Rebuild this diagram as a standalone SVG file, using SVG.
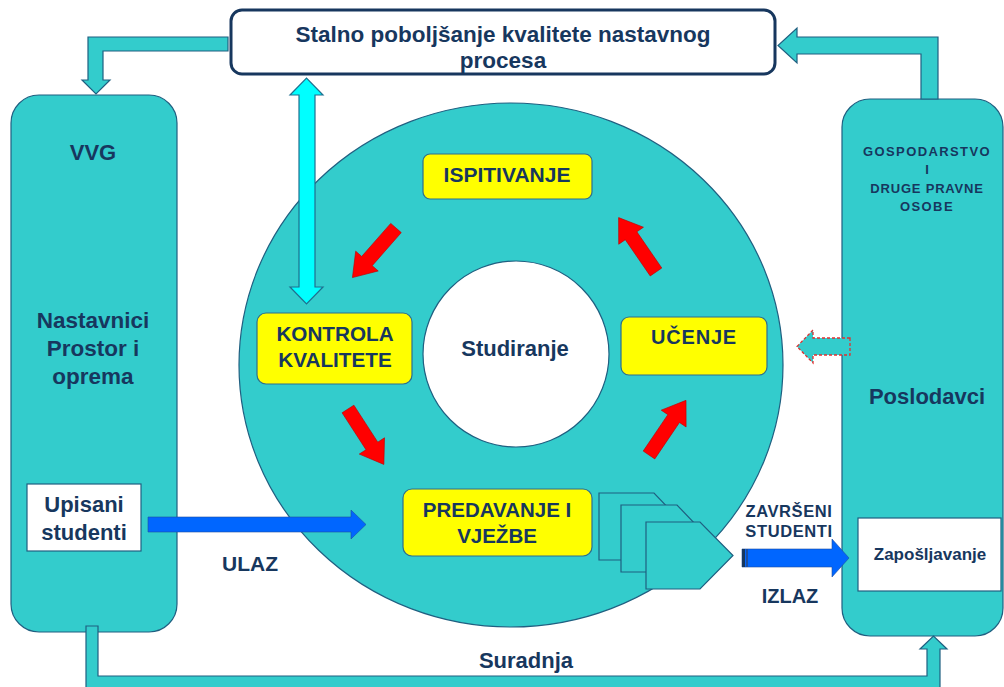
<svg xmlns="http://www.w3.org/2000/svg" width="1004" height="687" viewBox="0 0 1004 687">
<defs>
<style>
.t{font-family:"Liberation Sans",Arial,sans-serif;font-weight:bold;fill:#17375E;text-anchor:middle}
.teal{fill:#33CCCC;stroke:#1F5F80;stroke-width:1.2}
.yel{fill:#FFFF00;stroke:#2E6E8E;stroke-width:1.2}
.red{fill:#FF0000;stroke:#C00000;stroke-width:0.6}
.blue{fill:#0066FF;stroke:#1F4E9E;stroke-width:0.6}
</style>
<path id="redArrow" d="M0,-7 L44,-7 L44,-15 L66,0 L44,15 L44,7 L0,7 Z"/>
</defs>
<rect width="1004" height="687" fill="#FFFFFF"/>

<g id="vvg">
<rect class="teal" x="11" y="95" width="166" height="537" rx="28"/>
<text class="t" x="93" y="160" font-size="22">VVG</text>
<text class="t" x="93" y="328" font-size="22.5">Nastavnici</text>
<text class="t" x="93" y="356" font-size="22.5">Prostor i</text>
<text class="t" x="93" y="384" font-size="22.5">oprema</text>
</g>

<g id="poslodavci">
<rect class="teal" x="842" y="99" width="161" height="537" rx="28"/>
<text class="t" x="927" y="156" font-size="13" letter-spacing="1.4">GOSPODARSTVO</text>
<text class="t" x="927" y="174" font-size="13">I</text>
<text class="t" x="927" y="193" font-size="13" letter-spacing="0.8">DRUGE PRAVNE</text>
<text class="t" x="927" y="211" font-size="13" letter-spacing="1.4">OSOBE</text>
<text class="t" x="927" y="404" font-size="22">Poslodavci</text>
</g>

<g id="ring">
<ellipse class="teal" cx="511" cy="365" rx="272" ry="262"/>
</g>

<g id="studiranje">
<circle cx="516" cy="354" r="93" fill="#FFFFFF" stroke="#1F5F80" stroke-width="1.2"/>
<text class="t" x="515" y="356" font-size="22">Studiranje</text>
</g>

<g id="ispitivanje">
<rect class="yel" x="423" y="154" width="169" height="45" rx="7"/>
<text class="t" x="507" y="182" font-size="21">ISPITIVANJE</text>
</g>

<g id="kontrola">
<rect class="yel" x="257" y="313" width="155" height="71" rx="9"/>
<text class="t" x="335" y="341" font-size="20.7">KONTROLA</text>
<text class="t" x="335" y="367" font-size="20.7">KVALITETE</text>
</g>

<g id="ucenje">
<rect class="yel" x="621" y="317" width="146" height="58" rx="8"/>
<text class="t" x="694" y="344" font-size="20" letter-spacing="0.8">UČENJE</text>
</g>

<g id="predavanje">
<rect class="yel" x="403" y="489" width="189" height="67" rx="9"/>
<text class="t" x="497" y="517" font-size="20.5">PREDAVANJE I</text>
<text class="t" x="497" y="543" font-size="20.5">VJEŽBE</text>
</g>

<g id="documents">
<path class="teal" d="M599,493 L654,493 L686,526.5 L654,560 L599,560 Z"/>
<path class="teal" d="M621,505 L677,505 L709,538.5 L677,572 L621,572 Z"/>
<path class="teal" d="M646,522 L700,522 L733,555.5 L700,589 L646,589 Z"/>
</g>

<g id="top-box">
<rect x="231" y="10" width="544" height="64" rx="11" fill="#FFFFFF" stroke="#17375E" stroke-width="3"/>
<text class="t" x="503" y="42" font-size="22.5">Stalno poboljšanje kvalitete nastavnog</text>
<text class="t" x="503" y="68" font-size="22.5">procesa</text>
</g>

<g id="upisani">
<rect x="27" y="484" width="114" height="67" fill="#FFFFFF" stroke="#1F5F80" stroke-width="1.2"/>
<text class="t" x="84" y="512" font-size="22">Upisani</text>
<text class="t" x="84" y="540" font-size="22">studenti</text>
</g>

<g id="zaposljavanje">
<rect x="858" y="518" width="143" height="73" fill="#FFFFFF" stroke="#1F5F80" stroke-width="1.2"/>
<text class="t" x="930" y="560" font-size="17">Zapošljavanje</text>
</g>

<g id="connectors">
<path class="teal" d="M228,37 L88,37 L88,80 L82,80 L96,94 L110,80 L103,80 L103,51 L228,51 Z"/>
<path class="teal" d="M938,99 L938,37 L797,37 L797,28 L778,45.5 L797,63 L797,54 L921,54 L921,99 Z"/>
<path class="teal" d="M86,626 L86,700 L940,700 L940,649 L947,649 L933.5,636 L920,649 L927,649 L927,676 L98,676 L98,626 Z"/>
<path d="M299,95 L290,95 L306.5,78 L323,95 L315,95 L315,287 L323,287 L306.5,304 L290,287 L299,287 Z" fill="#00FFFF" stroke="#1F6F8F" stroke-width="1.2"/>
<path d="M850,338 L813,338 L813,330 L797,346.5 L813,363 L813,355 L850,355 Z" fill="#33CCCC" stroke="#E03030" stroke-width="1.3" stroke-dasharray="3,2"/>
<use href="#redArrow" class="red" transform="translate(396,228) rotate(131.3)"/>
<use href="#redArrow" class="red" transform="translate(348,409) rotate(57.1)"/>
<use href="#redArrow" class="red" transform="translate(649,455) rotate(-55.9)"/>
<use href="#redArrow" class="red" transform="translate(656,272) rotate(-124.5)"/>
<path class="blue" d="M148,517 L351,517 L351,510 L366,524.5 L351,539 L351,532 L148,532 Z"/>
<path class="blue" d="M742,549 L832,549 L832,539 L849,558 L832,577 L832,567 L742,567 Z"/>
<rect x="742" y="549" width="3" height="18" fill="#17375E"/>
<rect x="746" y="549" width="2" height="18" fill="#1F4E9E"/>
</g>

<g id="labels">
<text class="t" x="250" y="571" font-size="21">ULAZ</text>
<text class="t" x="789" y="517" font-size="16.5" letter-spacing="0.6">ZAVRŠENI</text>
<text class="t" x="789" y="537" font-size="16.5" letter-spacing="0.6">STUDENTI</text>
<text class="t" x="790" y="603" font-size="20">IZLAZ</text>
<text class="t" x="526" y="668" font-size="22">Suradnja</text>
</g>
</svg>
